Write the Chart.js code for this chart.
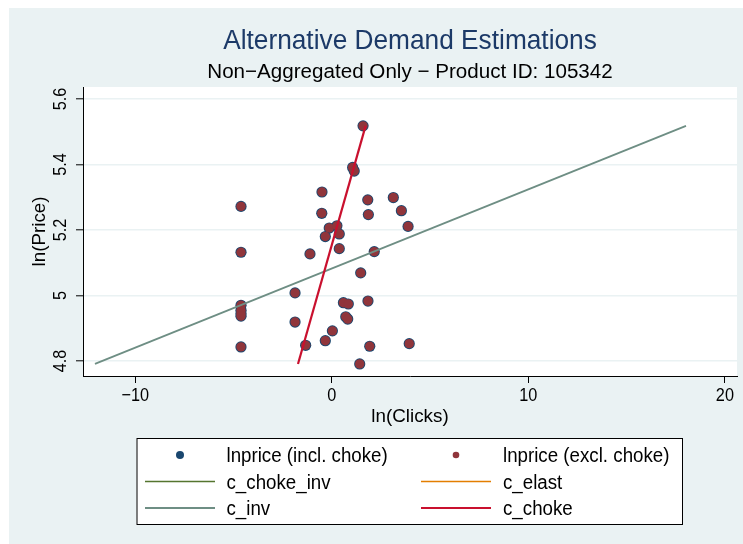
<!DOCTYPE html>
<html>
<head>
<meta charset="utf-8">
<title>Alternative Demand Estimations</title>
<script src="https://cdn.jsdelivr.net/npm/chart.js@4/dist/chart.umd.min.js"></script>
<style>
  html, body { margin: 0; padding: 0; background: #ffffff; }
  #wrap { width: 743px; height: 544px; }
</style>
</head>
<body>
<div id="wrap"><canvas id="chart" width="743" height="544"></canvas></div>
<script>
// Observed log clicks / log price pairs
const clicks = [1.59, 1.06, 1.14, -0.50, -4.62, 1.83, 3.13, -0.51, 1.86, 3.54,
                3.88, -0.13, 0.26, 0.38, -0.33, 0.38, -1.11, -4.62, 2.16, 1.47,
                -1.87, -4.62, -4.62, -4.62, -4.62, 0.59, 0.84, 1.84, -1.87, 0.71,
                0.81, 0.03, -0.33, -1.33, -4.62, 1.93, 3.94, 1.42];
const price  = [5.518, 5.391, 5.380, 5.316, 5.272, 5.292, 5.299, 5.251, 5.247, 5.259,
                5.211, 5.206, 5.213, 5.188, 5.180, 5.143, 5.127, 5.132, 5.134, 5.069,
                5.008, 4.970, 4.955, 4.945, 4.937, 4.978, 4.974, 4.983, 4.919, 4.935,
                4.928, 4.892, 4.862, 4.848, 4.843, 4.845, 4.853, 4.791];

// Fitted demand curves (endpoints over the observed price range)
const cInvClicks     = [-12.05, 18.02];
const cInvPrice      = [4.791, 5.518];
const cChokeClicks   = [-1.72, 1.72];
const cChokePrice    = [4.791, 5.518];
const cChokeInvClicks = [];
const cChokeInvPrice  = [];
const cElastClicks    = [];
const cElastPrice     = [];

// Axis ticks
const xTicks = [-10, 0, 10, 20];
const yTicks = [4.8, 5, 5.2, 5.4, 5.6];
const yTickLabels = ['4.8', '5', '5.2', '5.4', '5.6'];

const pairs = (xs, ys) => xs.map((x, i) => ({ x: x, y: ys[i] }));

const NAVY = 'rgb(26,71,111)';
const MAROON = 'rgb(144,53,59)';
const FOREST = 'rgb(85,117,47)';
const ORANGE = 'rgb(227,126,0)';
const TEAL = 'rgb(110,142,132)';
const RED = 'rgb(201,16,46)';
const BG = 'rgb(234,242,243)';
const FONT = '"Liberation Sans", Arial, Helvetica, sans-serif';

function txt(ctx, s, x, y, size, color, align, rot, sx) {
  ctx.save();
  ctx.translate(x, y);
  if (rot) ctx.rotate(rot);
  ctx.scale(sx || 1, 1);
  ctx.font = size + 'px ' + FONT;
  ctx.fillStyle = color;
  ctx.textAlign = align;
  ctx.textBaseline = 'alphabetic';
  ctx.fillText(s, 0, 0);
  ctx.restore();
}

const fmt = v => (v < 0 ? '\u2212' + Math.abs(v) : String(v));

// Graph region, plot region, titles, tick labels and legend
const stataLook = {
  id: 'stataLook',
  beforeDraw(chart) {
    const ctx = chart.ctx, a = chart.chartArea;
    ctx.save();
    ctx.fillStyle = '#ffffff';
    ctx.fillRect(0, 0, chart.width, chart.height);
    ctx.fillStyle = BG;
    ctx.fillRect(9, 8, chart.width - 9, chart.height - 8);
    ctx.fillStyle = '#ffffff';
    ctx.fillRect(a.left, a.top, a.right - a.left, a.bottom - a.top);
    ctx.restore();
  },
  afterDraw(chart) {
    const ctx = chart.ctx, a = chart.chartArea;
    const cx = (a.left + a.right) / 2;
    const xs = chart.scales.x, ys = chart.scales.y;

    txt(ctx, 'Alternative Demand Estimations', cx, 49.3, 27.5, 'rgb(28,58,104)', 'center', 0, 0.955);
    txt(ctx, 'Non\u2212Aggregated Only \u2212 Product ID: 105342', cx, 78.3, 20.5, '#000', 'center', 0, 1.005);

    xTicks.forEach(v => {
      txt(ctx, fmt(v), xs.getPixelForValue(v), 401, 18.5, '#000', 'center', 0, 0.88);
    });
    yTicks.forEach((v, i) => {
      txt(ctx, yTickLabels[i], 66.3, ys.getPixelForValue(v), 18.5, '#000', 'center', -Math.PI / 2, 0.88);
    });

    txt(ctx, 'ln(Clicks)', cx, 421.5, 19, '#000', 'center', 0, 0.99);
    txt(ctx, 'ln(Price)', 45.3, (a.top + a.bottom) / 2, 19, '#000', 'center', -Math.PI / 2, 0.99);

    // legend box
    const L = 136.5, T = 438, R = 683, B = 525;
    ctx.save();
    ctx.fillStyle = '#ffffff';
    ctx.fillRect(L, T, R - L, B - T);
    ctx.strokeStyle = '#000';
    ctx.lineWidth = 1;
    ctx.strokeRect(L + 0.5, T + 0.5, R - L - 1, B - T - 1);
    ctx.restore();

    const rows = [455, 481.5, 508];
    const cols = [{ s: 145, e: 215, t: 226.5 }, { s: 421, e: 491, t: 503 }];
    chart.data.datasets.forEach((ds, i) => {
      const c = cols[i % 2], y = rows[Math.floor(i / 2)];
      ctx.save();
      if (ds.showLine) {
        ctx.strokeStyle = ds.borderColor;
        ctx.lineWidth = ds.borderWidth;
        ctx.beginPath();
        ctx.moveTo(c.s, y);
        ctx.lineTo(c.e, y);
        ctx.stroke();
      } else {
        ctx.fillStyle = ds.backgroundColor;
        ctx.beginPath();
        ctx.arc((c.s + c.e) / 2, y, ds.legendRadius, 0, Math.PI * 2);
        ctx.fill();
      }
      ctx.restore();
      txt(ctx, ds.label, c.t, y + 7, 19.5, '#000', 'left', 0, 0.96);
    });
  }
};

const ctx = document.getElementById('chart').getContext('2d');
new Chart(ctx, {
  type: 'scatter',
  data: {
    datasets: [
      { label: 'lnprice (incl. choke)', data: pairs(clicks, price), backgroundColor: NAVY,
        borderWidth: 0, pointRadius: 5.6, legendRadius: 4, order: 5 },
      { label: 'lnprice (excl. choke)', data: pairs(clicks, price), backgroundColor: MAROON,
        borderWidth: 0, pointRadius: 4.7, legendRadius: 3.3, order: 4 },
      { label: 'c_choke_inv', data: pairs(cChokeInvClicks, cChokeInvPrice), showLine: true,
        borderColor: FOREST, borderWidth: 1.6, pointRadius: 0, order: 3 },
      { label: 'c_elast', data: pairs(cElastClicks, cElastPrice), showLine: true,
        borderColor: ORANGE, borderWidth: 1.6, pointRadius: 0, order: 2 },
      { label: 'c_inv', data: pairs(cInvClicks, cInvPrice), showLine: true,
        borderColor: TEAL, borderWidth: 1.8, pointRadius: 0, order: 1 },
      { label: 'c_choke', data: pairs(cChokeClicks, cChokePrice), showLine: true,
        borderColor: RED, borderWidth: 2.2, pointRadius: 0, order: 0 }
    ]
  },
  options: {
    responsive: false,
    animation: false,
    devicePixelRatio: 1,
    layout: { padding: { top: 87, right: 6, left: 0, bottom: 0 } },
    plugins: { legend: { display: false }, tooltip: { enabled: false }, title: { display: false } },
    scales: {
      x: {
        type: 'linear', min: -12.658, max: 20.615,
        afterBuildTicks: s => { s.ticks = xTicks.map(v => ({ value: v })); },
        afterFit: s => { s.height = 168; },
        ticks: { display: false },
        grid: { display: true, drawOnChartArea: false, drawTicks: true, tickLength: 7,
                tickColor: '#000', tickWidth: 1 },
        border: { display: true, color: '#000', width: 1 }
      },
      y: {
        type: 'linear', min: 4.7542, max: 5.6366,
        afterBuildTicks: s => { s.ticks = yTicks.map(v => ({ value: v })); },
        afterFit: s => { s.width = 83; },
        ticks: { display: false },
        grid: { display: true, color: BG, lineWidth: 1.6, drawTicks: true, tickLength: 7,
                tickColor: '#000', tickWidth: 1 },
        border: { display: true, color: '#000', width: 1 }
      }
    }
  },
  plugins: [stataLook]
});
</script>
</body>
</html>
